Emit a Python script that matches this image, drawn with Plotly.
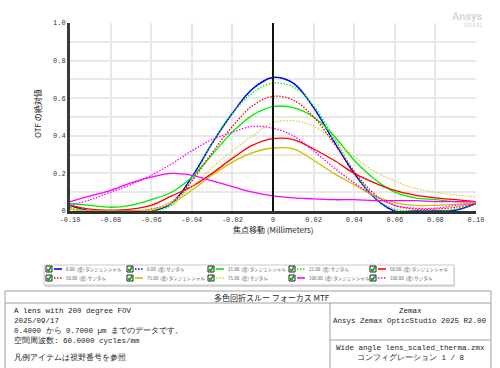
import plotly.graph_objects as go

# ---------------- data ----------------
focus_shift = [-0.10, -0.09, -0.08, -0.07, -0.06, -0.05, -0.04, -0.03, -0.02, -0.01,
               0.00, 0.01, 0.02, 0.03, 0.04, 0.05, 0.06, 0.07, 0.08, 0.09, 0.10]

f0_tan = [0.03, 0.0, 0.0, 0.0, 0.0, 0.04, 0.18, 0.36, 0.52, 0.65, 0.71, 0.68, 0.55, 0.37, 0.20, 0.07, 0.0, 0.0, 0.0, 0.005, 0.04]
f0_sag = f0_tan[:]
f21_tan = [0.04, 0.03, 0.02, 0.03, 0.06, 0.10, 0.18, 0.30, 0.42, 0.51, 0.555, 0.55, 0.50, 0.40, 0.27, 0.17, 0.10, 0.07, 0.06, 0.05, 0.05]
f21_sag = [0.02, 0.0, 0.0, 0.0, 0.0, 0.03, 0.16, 0.36, 0.52, 0.63, 0.68, 0.66, 0.56, 0.39, 0.21, 0.07, 0.01, 0.0, 0.0, 0.01, 0.04]
f50_tan = [0.03, 0.01, 0.005, 0.01, 0.03, 0.08, 0.13, 0.20, 0.28, 0.35, 0.385, 0.38, 0.33, 0.27, 0.20, 0.15, 0.11, 0.085, 0.07, 0.06, 0.05]
f50_sag = [0.01, 0.0, 0.0, 0.0, 0.01, 0.05, 0.16, 0.31, 0.45, 0.56, 0.61, 0.59, 0.50, 0.36, 0.21, 0.09, 0.03, 0.01, 0.01, 0.02, 0.04]
f75_tan = [0.01, 0.0, 0.0, 0.0, 0.005, 0.04, 0.11, 0.19, 0.26, 0.31, 0.335, 0.33, 0.27, 0.20, 0.14, 0.08, 0.045, 0.03, 0.03, 0.035, 0.045]
f75_sag = [0.01, 0.0, 0.0, 0.0, 0.005, 0.05, 0.13, 0.23, 0.32, 0.40, 0.47, 0.48, 0.45, 0.38, 0.29, 0.21, 0.16, 0.12, 0.10, 0.085, 0.075]
f100_tan = [0.05, 0.08, 0.11, 0.15, 0.18, 0.20, 0.19, 0.16, 0.13, 0.10, 0.08, 0.07, 0.065, 0.06, 0.06, 0.055, 0.055, 0.055, 0.05, 0.05, 0.05]
f100_sag = [0.03, 0.06, 0.10, 0.14, 0.19, 0.25, 0.32, 0.38, 0.42, 0.45, 0.44, 0.40, 0.32, 0.23, 0.15, 0.08, 0.03, 0.015, 0.015, 0.03, 0.04]

series_names = ["0.00  (度) タンジェンシャル", "0.00  (度) サジタル",
                "21.00  (度) タンジェンシャル", "21.00  (度) サジタル",
                "50.00  (度) タンジェンシャル", "50.00  (度) サジタル",
                "75.00  (度) タンジェンシャル", "75.00  (度) サジタル",
                "100.00  (度) タンジェンシャル", "100.00  (度) サジタル"]
series_values = [f0_tan, f0_sag, f21_tan, f21_sag, f50_tan, f50_sag,
                 f75_tan, f75_sag, f100_tan, f100_sag]
series_colors = ["#0000FF", "#0000FF", "#00EE00", "#00EE00", "#FF0000", "#FF0000",
                 "#C8C000", "#D8D040", "#FF00FF", "#FF00FF"]
series_dash = ["solid", "1.5px,1.5px"] * 5

x_ticks = [-0.10, -0.08, -0.06, -0.04, -0.02, 0.0, 0.02, 0.04, 0.06, 0.08, 0.10]
x_tick_text = ["-0.10", "-0.08", "-0.06", "-0.04", "-0.02", "0", "0.02", "0.04", "0.06", "0.08", "0.10"]
y_ticks = [0.0, 0.1, 0.2, 0.3, 0.4, 0.5, 0.6, 0.7, 0.8, 0.9, 1.0]
y_tick_text = ["0", "", "0.2", "", "0.4", "", "0.6", "", "0.8", "", "1.0"]

# ---------------- geometry ----------------
W, H = 500, 368
L, R, T, B = 70, 476, 23, 211


def px(xp):
    return (xp - L) / (R - L)


def py(yp):
    return (B - yp) / (B - T)


fig = go.Figure()
for name, vals, col, dash in zip(series_names, series_values, series_colors, series_dash):
    fig.add_trace(go.Scatter(x=focus_shift, y=vals, mode="lines", name=name,
                             line=dict(color=col, width=1.3, dash=dash, shape="spline", smoothing=1.0),
                             showlegend=False))

mono = "Liberation Mono, DejaVu Sans Mono, monospace"
cjk = "Noto Sans CJK JP, sans-serif"

fig.update_layout(
    width=W, height=H,
    margin=dict(l=L, r=W - R, t=T, b=H - B),
    paper_bgcolor="white", plot_bgcolor="white",
    xaxis=dict(range=[-0.10, 0.10], tickvals=x_ticks, ticktext=x_tick_text,
               showgrid=True, gridcolor="#e8e8e8", gridwidth=2, zeroline=False,
               showline=True, linecolor="#303030", linewidth=3, ticks="",
               tickfont=dict(family=mono, size=7, color="#333")),
    yaxis=dict(range=[0, 1], tickvals=y_ticks, ticktext=y_tick_text,
               showgrid=True, gridcolor="#e8e8e8", gridwidth=2, zeroline=False,
               showline=True, linecolor="#383838", linewidth=3, ticks="",
               tickfont=dict(family=mono, size=7, color="#333")),
    showlegend=False,
)

shapes = []
annotations = []


def note(text, x, y, size, family, color="#222", xanchor="center", angle=0):
    annotations.append(dict(text=text, xref="paper", yref="paper", x=px(x), y=py(y),
                            xanchor=xanchor, yanchor="middle", showarrow=False, textangle=angle,
                            font=dict(family=family, size=size, color=color)))


# vertical line at zero focus shift
shapes.append(dict(type="line", xref="x", yref="paper", x0=0, x1=0, y0=0, y1=1,
                   line=dict(color="#111", width=2)))

# axis titles
note("OTF の絶対値", 37, 114, 8, cjk, angle=-90)
note("焦点移動 (Millimeters)", 273, 229, 8, cjk)

# watermark
note("<b>Ansys</b>", 485, 16, 11, "Roboto", color="#d8d8d8", xanchor="right")
note("2025 R2", 485, 25, 5, "Roboto", color="#d0d0d0", xanchor="right")

# legend box
shapes.append(dict(type="rect", xref="paper", yref="paper", x0=px(45), x1=px(455), y0=py(267), y1=py(287),
                   line=dict(width=0), fillcolor="#d8d8d8"))
shapes.append(dict(type="rect", xref="paper", yref="paper", x0=px(44), x1=px(454), y0=py(265), y1=py(285),
                   line=dict(color="#c8c8c8", width=1), fillcolor="white"))
col_x = [46, 127, 208, 289, 370]
row_y = [269, 278]
for i, (name, col, dash) in enumerate(zip(series_names, series_colors, series_dash)):
    r, c = divmod(i, 5)
    x0 = col_x[c]
    yc = row_y[r]
    shapes.append(dict(type="rect", xref="paper", yref="paper", x0=px(x0), x1=px(x0 + 6),
                       y0=py(yc - 3), y1=py(yc + 3), line=dict(color="#202020", width=1), fillcolor="#f4fff4"))
    shapes.append(dict(type="path", xref="paper", yref="paper",
                       path=f"M {px(x0+1)} {py(yc)} L {px(x0+2.6)} {py(yc+2)} L {px(x0+5.2)} {py(yc-2.5)}",
                       line=dict(color="#1a9a1a", width=1.6)))
    shapes.append(dict(type="line", xref="paper", yref="paper", x0=px(x0 + 8), x1=px(x0 + 16),
                       y0=py(yc), y1=py(yc), line=dict(color=col, width=1.6, dash=dash)))
    note(name, x0 + 17.5, yc, 4.5, cjk, color="#555", xanchor="left")

# info panel
shapes.append(dict(type="rect", xref="paper", yref="paper", x0=px(5), x1=px(491), y0=py(291), y1=py(369),
                   line=dict(color="#a0a0a0", width=1), fillcolor="white"))
shapes.append(dict(type="line", xref="paper", yref="paper", x0=px(5), x1=px(491), y0=py(303), y1=py(303),
                   line=dict(color="#a0a0a0", width=1)))
shapes.append(dict(type="line", xref="paper", yref="paper", x0=px(330), x1=px(330), y0=py(303), y1=py(369),
                   line=dict(color="#a0a0a0", width=1)))
shapes.append(dict(type="line", xref="paper", yref="paper", x0=px(330), x1=px(491), y0=py(340), y1=py(340),
                   line=dict(color="#a0a0a0", width=1)))

note("多色回折スルー フォーカス MTF", 272, 297.5, 8, cjk)
left_lines = [("A lens with 200 degree FOV", 311),
              ("2025/09/17", 320.5),
              ("0.4000 から 0.7000 µm までのデータです。", 330.5),
              ("空間周波数: 60.0000 cycles/mm", 340),
              ("凡例アイテムは視野番号を参照", 357)]
for txt, yy in left_lines:
    note(txt, 12, yy, 7.5, mono, xanchor="left")
right_lines = [("Zemax", 310.5), ("Ansys Zemax OpticStudio 2025 R2.00", 320.5),
               ("Wide angle lens_scaled_therma.zmx", 347.5), ("コンフィグレーション 1 / 8", 357)]
for txt, yy in right_lines:
    note(txt, 410, yy, 7.5, mono)

fig.update_layout(shapes=shapes, annotations=annotations)
fig.write_html("out.html", config={"displayModeBar": False},
               post_script="document.body.style.margin='0';document.body.style.overflow='hidden';")
